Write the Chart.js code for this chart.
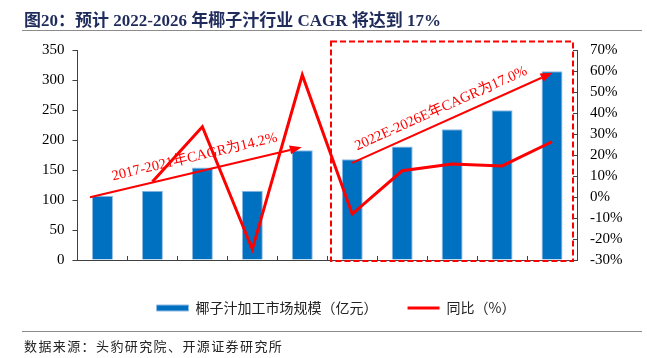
<!DOCTYPE html>
<html>
<head>
<meta charset="utf-8">
<script src="https://cdn.jsdelivr.net/npm/chart.js@4.4.1/dist/chart.umd.min.js"></script>
<style>
  body { margin: 0; background: #fff; }
  #wrap { position: relative; width: 647px; height: 358px; overflow: hidden; }
  #chart { position: absolute; left: 0; top: 0; }
  .title {
    position: absolute; left: 24px; top: 6px; white-space: nowrap;
    font: bold 17px "Liberation Serif", "Noto Sans CJK SC"; color: #1f2b5b;
  }
  .rule { position: absolute; left: 22px; width: 620px; border-top: 1.5px solid #8c8c8c; }
  .source {
    position: absolute; left: 24px; top: 336px; white-space: nowrap;
    font: 13px "Noto Sans CJK SC"; letter-spacing: 1.4px; color: #222;
  }
</style>
</head>
<body>
<div id="wrap">
  <canvas id="chart" width="647" height="358"></canvas>
  <div class="title">图20：预计 2022-2026 年椰子汁行业 CAGR 将达到 17%</div>
  <div class="rule" style="top:30px"></div>
  <div class="rule" style="top:331px"></div>
  <div class="source">数据来源：头豹研究院、开源证券研究所</div>
</div>
<script>
const years = ["2017", "2018", "2019", "2020", "2021", "2022E", "2023E", "2024E", "2025E", "2026E"];
const marketSize = [107, 115.5, 154, 115.5, 183, 168, 189, 218, 249.5, 314.5];
const yoyGrowth = [null, 7.3, 33.5, -24.9, 58.1, -8.1, 12.5, 15.7, 14.8, 26.3];
const sizeAxis = [0, 350, 50];     // min, max, step
const growthAxis = [-30, 70, 10];
const seriesNames = ["椰子汁加工市场规模（亿元）", "同比（%）"];
const cagrLabels = ["2017-2021年CAGR为14.2%", "2022E-2026E年CAGR为17.0%"];

// annotation anchors, in axis units (category index, left-axis value)
const cagrArrows = [
  { from: [-0.25, 104.5], to: [3.99, 188], at: 0.51, lift: 15 },
  { from: [5.0, 162], to: [9.01, 312], at: 0.47, lift: 13 },
];
const forecastBox = { x: [4.575, 9.42], y: [-1.7, 364] };

const RED = "#ff0000";
const serif = '"Liberation Serif", "Noto Sans CJK SC"';

const annotations = {
  id: "annotations",
  afterDatasetsDraw(chart) {
    const { ctx, scales: { x, y } } = chart;
    ctx.save();

    // forecast period box
    const bx0 = x.getPixelForValue(forecastBox.x[0]);
    const bx1 = x.getPixelForValue(forecastBox.x[1]);
    const by0 = y.getPixelForValue(forecastBox.y[1]);
    const by1 = y.getPixelForValue(forecastBox.y[0]);
    ctx.strokeStyle = RED;
    ctx.lineWidth = 2;
    ctx.setLineDash([6, 3]);
    ctx.strokeRect(bx0, by0, bx1 - bx0, by1 - by0);
    ctx.setLineDash([]);

    cagrArrows.forEach((a, i) => {
      const x0 = x.getPixelForValue(a.from[0]), y0 = y.getPixelForValue(a.from[1]);
      const x1 = x.getPixelForValue(a.to[0]), y1 = y.getPixelForValue(a.to[1]);
      const ang = Math.atan2(y1 - y0, x1 - x0);
      const head = 12, half = 4.5;
      ctx.strokeStyle = RED;
      ctx.fillStyle = RED;
      ctx.lineWidth = 2;
      ctx.beginPath();
      ctx.moveTo(x0, y0);
      ctx.lineTo(x1 - Math.cos(ang) * head, y1 - Math.sin(ang) * head);
      ctx.stroke();
      ctx.save();
      ctx.translate(x1, y1);
      ctx.rotate(ang);
      ctx.beginPath();
      ctx.moveTo(0, 0);
      ctx.lineTo(-head, -half);
      ctx.lineTo(-head, half);
      ctx.closePath();
      ctx.fill();
      ctx.restore();

      // label along the arrow
      const cx = x0 + (x1 - x0) * a.at + Math.sin(ang) * a.lift;
      const cy = y0 + (y1 - y0) * a.at - Math.cos(ang) * a.lift;
      ctx.save();
      ctx.translate(cx, cy);
      ctx.rotate(ang);
      ctx.font = "14.5px " + serif;
      ctx.textAlign = "center";
      ctx.textBaseline = "middle";
      ctx.fillText(cagrLabels[i], 0, 0);
      ctx.restore();
    });
    ctx.restore();
  },
};

Chart.defaults.color = "#000";
Chart.defaults.font.family = serif;
Chart.defaults.font.size = 15;

new Chart(document.getElementById("chart"), {
  type: "bar",
  data: {
    labels: years,
    datasets: [
      {
        label: seriesNames[0],
        data: marketSize,
        backgroundColor: "#0070c0",
        borderColor: "#8fb9e3",
        borderWidth: 1,
        barPercentage: 0.42,
        categoryPercentage: 1,
        pointStyle: "rect",
        yAxisID: "y",
        order: 2,
      },
      {
        type: "line",
        label: seriesNames[1],
        data: yoyGrowth,
        borderColor: RED,
        backgroundColor: RED,
        borderWidth: 3,
        pointRadius: 0,
        pointHoverRadius: 0,
        pointBorderWidth: 3,
        pointBorderColor: RED,
        pointStyle: "line",
        tension: 0,
        yAxisID: "y1",
        order: 1,
      },
    ],
  },
  options: {
    responsive: false,
    animation: false,
    events: [],
    layout: { padding: { top: 50, left: 25, right: 0, bottom: 33 } },
    scales: {
      x: {
        offset: true,
        grid: { display: true, drawOnChartArea: false, offset: true, tickLength: -4, color: "#404040" },
        border: { color: "#404040" },
        ticks: { padding: 13, maxRotation: 0 },
        afterFit(scale) { scale.height = 11; },
      },
      y: {
        position: "left",
        min: sizeAxis[0],
        max: sizeAxis[1],
        ticks: { stepSize: sizeAxis[2], padding: 8 },
        grid: { drawOnChartArea: false, tickLength: 5, color: "#404040" },
        border: { color: "#404040" },
        afterFit(scale) { scale.width = 52.5; },
      },
      y1: {
        position: "right",
        min: growthAxis[0],
        max: growthAxis[1],
        ticks: { stepSize: growthAxis[2], padding: 17, callback: (v) => v + "%" },
        grid: { drawOnChartArea: false, tickLength: -4, color: "#404040" },
        border: { color: "#404040" },
        afterFit(scale) { scale.width = 70; },
      },
    },
    plugins: {
      tooltip: { enabled: false },
      legend: {
        position: "bottom",
        labels: {
          usePointStyle: true,
          pointStyleWidth: 32,
          boxHeight: 6,
          padding: 30,
          color: "#222",
          font: { family: '"Noto Sans CJK SC"', size: 14 },
          sort: (a, b) => a.datasetIndex - b.datasetIndex,
        },
      },
    },
  },
  plugins: [annotations],
});
</script>
</body>
</html>
